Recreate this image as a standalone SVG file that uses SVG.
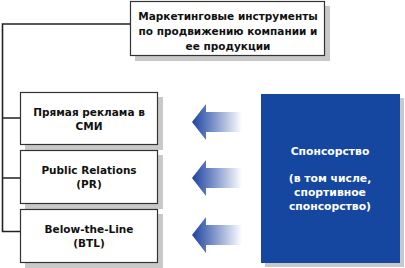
<svg xmlns="http://www.w3.org/2000/svg" width="405" height="268" viewBox="0 0 405 268">
<defs>
<linearGradient id="ag" x1="0" y1="0" x2="1" y2="0">
<stop offset="0" stop-color="#1e44a0"/>
<stop offset="0.3" stop-color="#5f7abc"/>
<stop offset="1" stop-color="#ffffff"/>
</linearGradient>
<path id="arrow" d="M0,0 L14,-18 L14,-10 L50,-10 L50,10 L14,10 L14,18 Z" fill="url(#ag)"/>
</defs>
<style>
.box{fill:#fff;stroke:#333;stroke-width:1.2}
.sh{fill:#c9c9c9}
.line{fill:none;stroke:#222;stroke-width:1.6}
text{font-family:"DejaVu Sans",Verdana,sans-serif;font-weight:bold;font-size:10.5px;text-anchor:middle;fill:#111}
.w{fill:#fff;font-size:10.8px}
</style>
<rect width="405" height="268" fill="#fff"/>
<g id="connectors">
<path class="line" d="M130,24 H2.5 V231.5 H20 M2.5,118 H20 M2.5,178 H20"/>
<use href="#arrow" x="192" y="122"/>
<use href="#arrow" x="192" y="178"/>
<use href="#arrow" x="192" y="235"/>
</g>
<g id="top">
<rect class="sh" x="135" y="6" width="195" height="55"/>
<rect class="box" x="130.5" y="1.5" width="194" height="54"/>
<text x="228" y="20">Маркетинговые инструменты</text>
<text x="228" y="35">по продвижению компании и</text>
<text x="228" y="50">ее продукции</text>
</g>
<g id="n1">
<rect class="sh" x="25" y="97" width="138" height="53"/>
<rect class="box" x="20.5" y="92.5" width="137" height="52"/>
<text x="89" y="116">Прямая реклама в</text>
<text x="89" y="130">СМИ</text>
</g>
<g id="n2">
<rect class="sh" x="25" y="155" width="138" height="54"/>
<rect class="box" x="20.5" y="150.5" width="137" height="53"/>
<text x="89" y="174">Public Relations</text>
<text x="89" y="188">(PR)</text>
</g>
<g id="n3">
<rect class="sh" x="25" y="214" width="138" height="54"/>
<rect class="box" x="20.5" y="209.5" width="137" height="53"/>
<text x="89" y="233">Below-the-Line</text>
<text x="89" y="247">(BTL)</text>
</g>
<g id="sponsor">
<rect class="sh" x="265" y="98" width="139" height="169"/>
<rect x="261" y="94" width="139" height="169" fill="#1546a0"/>
<text class="w" x="330" y="155">Спонсорство</text>
<text class="w" x="330" y="182">(в том числе,</text>
<text class="w" x="330" y="196">спортивное</text>
<text class="w" x="330" y="210">спонсорство)</text>
</g>
</svg>
